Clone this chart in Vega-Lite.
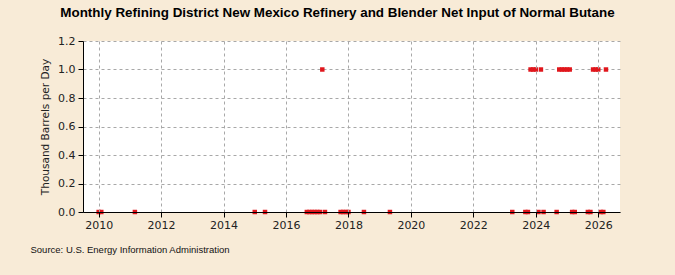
{
  "$schema": "https://vega.github.io/schema/vega-lite/v6.json",
  "width": 537,
  "height": 171,
  "autosize": {"type": "none"},
  "padding": {"left": 83, "top": 41, "right": 55, "bottom": 63},
  "background": "#f8ebd7",
  "title": {
    "text": "Monthly Refining District New Mexico Refinery and Blender Net Input of Normal Butane",
    "anchor": "middle",
    "frame": "group",
    "offset": 16,
    "font": "Liberation Sans",
    "fontSize": 13.4,
    "fontWeight": "bold",
    "color": "#000000",
    "dx": -14
  },
  "config": {
    "view": {"fill": "#ffffff", "stroke": null},
    "axis": {
      "labelFont": "DejaVu Sans",
      "labelFontSize": 11,
      "labelColor": "#222222",
      "titleFont": "DejaVu Sans",
      "titleFontSize": 10.5,
      "titleFontWeight": "normal",
      "titleColor": "#222222",
      "domainColor": "#000000",
      "domainWidth": 1,
      "tickColor": "#000000",
      "tickSize": 5,
      "gridColor": "#a8a8a8",
      "gridDash": [3, 3],
      "gridWidth": 1
    }
  },
  "data": {
    "values": [
      {"date": "2010-01-01", "value": 0},
      {"date": "2010-02-01", "value": 0},
      {"date": "2011-03-01", "value": 0},
      {"date": "2015-01-01", "value": 0},
      {"date": "2015-05-01", "value": 0},
      {"date": "2016-09-01", "value": 0},
      {"date": "2016-10-01", "value": 0},
      {"date": "2016-11-01", "value": 0},
      {"date": "2016-12-01", "value": 0},
      {"date": "2017-01-01", "value": 0},
      {"date": "2017-02-01", "value": 0},
      {"date": "2017-03-01", "value": 1},
      {"date": "2017-04-01", "value": 0},
      {"date": "2017-10-01", "value": 0},
      {"date": "2017-11-01", "value": 0},
      {"date": "2017-12-01", "value": 0},
      {"date": "2018-01-01", "value": 0},
      {"date": "2018-07-01", "value": 0},
      {"date": "2019-05-01", "value": 0},
      {"date": "2023-04-01", "value": 0},
      {"date": "2023-09-01", "value": 0},
      {"date": "2023-10-01", "value": 0},
      {"date": "2023-11-01", "value": 1},
      {"date": "2023-12-01", "value": 1},
      {"date": "2024-01-01", "value": 1},
      {"date": "2024-02-01", "value": 0},
      {"date": "2024-03-01", "value": 1},
      {"date": "2024-04-01", "value": 0},
      {"date": "2024-09-01", "value": 0},
      {"date": "2024-10-01", "value": 1},
      {"date": "2024-11-01", "value": 1},
      {"date": "2024-12-01", "value": 1},
      {"date": "2025-01-01", "value": 1},
      {"date": "2025-02-01", "value": 1},
      {"date": "2025-03-01", "value": 0},
      {"date": "2025-04-01", "value": 0},
      {"date": "2025-09-01", "value": 0},
      {"date": "2025-10-01", "value": 0},
      {"date": "2025-11-01", "value": 1},
      {"date": "2025-12-01", "value": 1},
      {"date": "2026-01-01", "value": 1},
      {"date": "2026-02-01", "value": 0},
      {"date": "2026-03-01", "value": 0},
      {"date": "2026-04-01", "value": 1}
    ]
  },
  "layer": [
    {
      "mark": {"type": "square", "size": 20, "filled": true, "color": "#e0161c", "opacity": 1, "clip": false},
      "encoding": {
        "x": {
          "field": "date",
          "type": "temporal",
          "scale": {
            "type": "utc",
            "domain": [
              {"year": 2009, "month": 7, "date": 2, "utc": true},
              {"year": 2026, "month": 9, "date": 12, "utc": true}
            ]
          },
          "axis": {
            "title": "Source: U.S. Energy Information Administration",
            "titleFont": "Liberation Sans",
            "titleFontSize": 9.5,
            "titleColor": "#111111",
            "titleAnchor": "start",
            "titleAlign": "left",
            "titleBaseline": "middle",
            "titleX": -53,
            "titleY": 37,
            "format": "%Y",
            "formatType": "utc",
            "values": [
              {"year": 2010, "month": 1, "date": 1, "utc": true},
              {"year": 2012, "month": 1, "date": 1, "utc": true},
              {"year": 2014, "month": 1, "date": 1, "utc": true},
              {"year": 2016, "month": 1, "date": 1, "utc": true},
              {"year": 2018, "month": 1, "date": 1, "utc": true},
              {"year": 2020, "month": 1, "date": 1, "utc": true},
              {"year": 2022, "month": 1, "date": 1, "utc": true},
              {"year": 2024, "month": 1, "date": 1, "utc": true},
              {"year": 2026, "month": 1, "date": 1, "utc": true}
            ],
            "labelPadding": 2,
            "labelFlush": false,
            "zindex": 1
          }
        },
        "y": {
          "field": "value",
          "type": "quantitative",
          "scale": {"domain": [0, 1.2]},
          "axis": {
            "title": "Thousand Barrels per Day",
            "values": [0, 0.2, 0.4, 0.6, 0.8, 1.0, 1.2],
            "format": ".1f",
            "titlePadding": 7,
            "labelPadding": 3,
            "zindex": 0
          }
        }
      }
    }
  ]
}
